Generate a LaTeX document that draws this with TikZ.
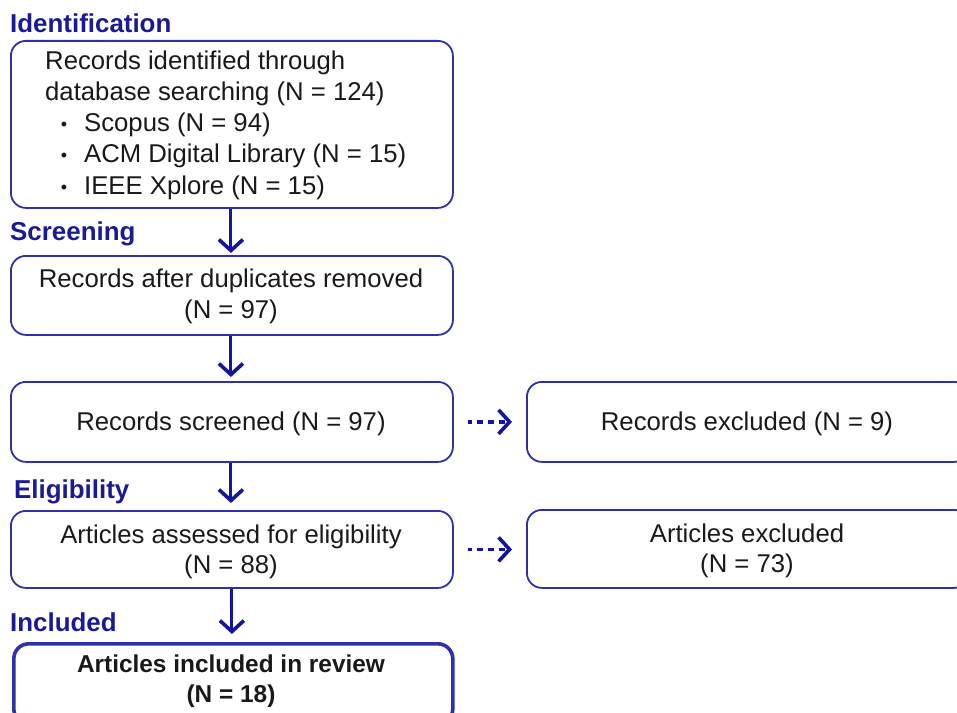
\documentclass[tikz,border=0pt]{standalone}
\usepackage{fontspec}
\setmainfont{Liberation Sans}
\usetikzlibrary{arrows.meta}
\definecolor{boxblue}{RGB}{48,48,172}
\definecolor{arrblue}{RGB}{20,20,160}
\definecolor{lblblue}{RGB}{26,26,150}
\definecolor{txtcol}{RGB}{25,25,25}
\begin{document}
\begin{tikzpicture}[x=1bp,y=-1bp,
  box/.style={draw=boxblue, line width=1.8bp, rounded corners=15bp, minimum width=442bp, inner sep=0pt, anchor=north west},
  finalbox/.style={box, line width=3.6bp, minimum width=439bp},
  body/.style={text=txtcol, inner sep=0pt, font=\fontsize{25.8}{31}\selectfont},
  bodybold/.style={text=txtcol, inner sep=0pt, font=\fontsize{24.5}{30}\selectfont\bfseries},
  phase/.style={text=lblblue, inner sep=0pt, anchor=base west, font=\fontsize{26}{31}\selectfont\bfseries},
  bul/.style={text=txtcol, inner sep=0pt, anchor=base, font=\fontsize{18}{20}\selectfont},
  flow/.style={draw=arrblue, line width=3bp, -{Straight Barb[length=11bp,width=24bp,line width=3.6bp]}},
  side/.style={flow, line width=3.6bp, dash pattern=on 6bp off 5bp, dash phase=2bp, shorten <=14bp, shorten >=14bp}
]
\useasboundingbox (0,0) rectangle (957,713);

% phase labels
\node[phase] (lid) at (10,33) {Identification};
\node[phase] (lsc) at (10,240) {Screening};
\node[phase] (lel) at (14,498) {Eligibility};
\node[phase] (lin) at (10,631) {Included};

% boxes
\node[box, minimum height=167bp] (b1) at (10,40) {};
\node[box, minimum height=79bp] (b2) at (10,255) {};
\node[box, minimum height=80bp] (b3) at (10,381) {};
\node[box, minimum height=80bp] (r3) at (526,381) {};
\node[box, minimum height=77bp] (b4) at (10,510) {};
\node[box, minimum height=78bp] (r4) at (526,509) {};
\node[finalbox, minimum height=80bp] (b5) at (12,642) {};

% box 1 text
\node[body, anchor=base west] (t1a) at (45,70) {Records identified through};
\node[body, anchor=base west] (t1b) at (45,101) {database searching (N = 124)};
\node[bul] (p1) at (64,131) {•};
\node[bul] (p2) at (64,162) {•};
\node[bul] (p3) at (64,193) {•};
\node[body, anchor=base west] (t1c) at (84,132) {Scopus (N = 94)};
\node[body, anchor=base west] (t1d) at (84,163) {ACM Digital Library (N = 15)};
\node[body, anchor=base west] (t1e) at (84,194) {IEEE Xplore (N = 15)};

% other texts
\node[body, anchor=base] (t2a) at (231,287) {Records after duplicates removed};
\node[body, anchor=base] (t2b) at (231,318) {(N = 97)};
\node[body, anchor=base] (t3) at (231,430) {Records screened (N = 97)};
\node[body, anchor=base] (t3r) at (747,430) {Records excluded (N = 9)};
\node[body, anchor=base] (t4a) at (231,543) {Articles assessed for eligibility};
\node[body, anchor=base] (t4b) at (231,573) {(N = 88)};
\node[body, anchor=base] (t4ra) at (747,542) {Articles excluded};
\node[body, anchor=base] (t4rb) at (747,572) {(N = 73)};
\node[bodybold, anchor=base] (t5a) at (231,672) {Articles included in review};
\node[bodybold, anchor=base] (t5b) at (231,702) {(N = 18)};

% connectors
\draw[flow, shorten >=2bp] ([xshift=-1bp]b1.south) -- ([xshift=-1bp]b2.north);
\draw[flow, shorten >=4bp] ([xshift=-1bp]b2.south) -- ([xshift=-1bp]b3.north);
\draw[flow, shorten >=7bp] ([xshift=-1bp]b3.south) -- ([xshift=-1bp]b4.north);
\draw[flow, shorten >=8bp] (b4.south) -- (b4.south |- b5.north);
\draw[side] (b3.east) -- (r3.west);
\draw[side] (b4.east) -- (b4.east -| r4.west);
\end{tikzpicture}
\end{document}
